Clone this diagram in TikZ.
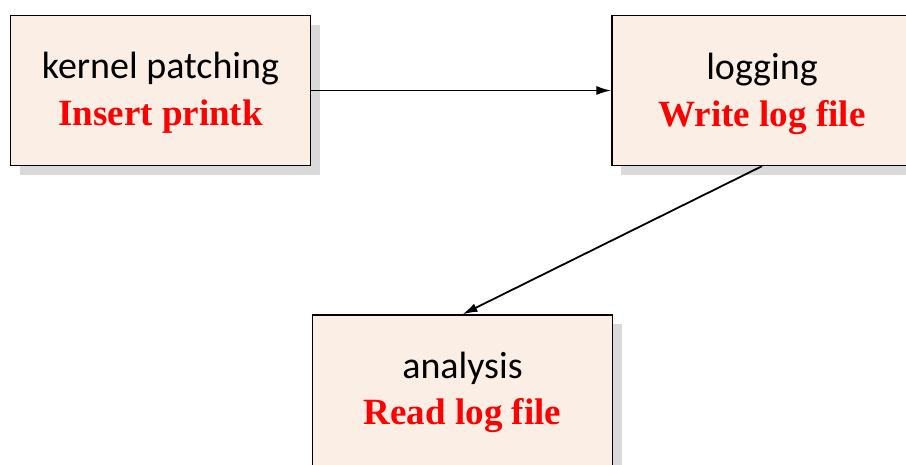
\documentclass[tikz,border=0pt]{standalone}
\usepackage{fontspec}
\setmainfont{Carlito}
\newfontfamily\labelserif{Liberation Serif}
\usetikzlibrary{arrows.meta,shadows}
\definecolor{boxfill}{HTML}{FBEEE4}
\definecolor{shadowgray}{HTML}{D9D9D9}
\tikzset{
  stage/.style={draw=black, line width=1.3pt, fill=boxfill, minimum width=300pt,
    minimum height=150pt, inner sep=0pt,
    drop shadow={shadow xshift=9pt, shadow yshift=-9pt, fill=shadowgray, opacity=1}},
  title/.style={anchor=base, font=\fontsize{38}{38}\selectfont, text=black, inner sep=0pt},
  task/.style={anchor=base, font=\labelserif\bfseries\fontsize{37}{37}\selectfont, text=red, inner sep=0pt},
  flow/.style={draw=black, line width=1.8pt, -{Latex[length=15pt,width=9pt]}}
}
\begin{document}
\begin{tikzpicture}[x=1pt,y=-1pt]
  \useasboundingbox (0,0) rectangle (906,464);
  \begin{scope}
    \clip (0,0) rectangle (906,464);
    \node[stage] (patch) at (160.5,90.5) {};
    \node[stage] (log) at (762,90.5) {};
    \node[stage, minimum height=170pt] (ana) at (462.5,400) {};
  \end{scope}
  \node[title] (patchT) at (160.5,78) {kernel patching};
  \node[task] (patchS) at (160.5,125) {Insert printk};
  \node[title] (logT) at (762,79) {logging};
  \node[task] (logS) at (762,126) {Write log file};
  \node[title] (anaT) at (462.5,378) {analysis};
  \node[task] (anaS) at (462.5,424) {Read log file};
  \draw[flow] (patch.east) -- (log.west);
  \draw[flow] (log.south) -- (ana.north);
\end{tikzpicture}
\end{document}
